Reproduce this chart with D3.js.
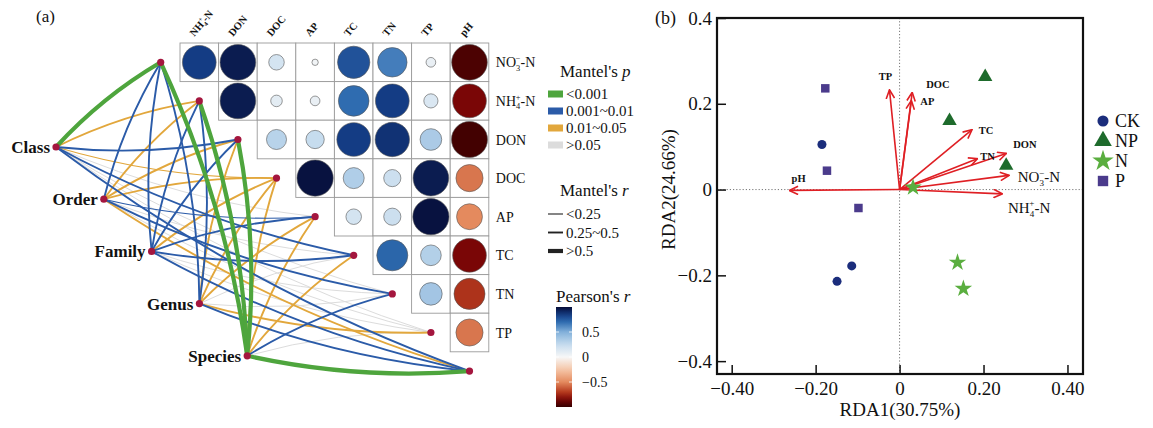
<!DOCTYPE html>
<html>
<head>
<meta charset="utf-8">
<script src="https://cdn.jsdelivr.net/npm/d3@7"></script>
<style>
  body { margin: 0; background: #fff; }
  svg { display: block; }
  text { font-family: "Liberation Serif", "Times New Roman", "DejaVu Serif", serif; fill: #111; }
</style>
</head>
<body>
<div id="chart"></div>
<script>
// ---------------- data ----------------
const envKeys = ["NO3", "NH4", "DON", "DOC", "AP", "TC", "TN", "TP", "pH"];
const rowKeys = envKeys.slice(0, 8);
const colKeys = envKeys.slice(1);

// Pearson r, upper triangle: row i starts at column i
const corrRows = [
  [0.85, 0.95, 0.18, 0.03, 0.78, 0.65, 0.07, -0.95],
  [0.95, 0.10, 0.07, 0.70, 0.85, 0.15, -0.85],
  [0.30, 0.25, 0.85, 0.88, 0.35, -0.97],
  [0.98, 0.33, 0.22, 0.95, -0.55],
  [0.18, 0.22, 0.98, -0.50],
  [0.72, 0.32, -0.85],
  [0.38, -0.72],
  [-0.55]
];

const taxa = ["Class", "Order", "Family", "Genus", "Species"];
const pLevels = ["<0.001", "0.001~0.01", "0.01~0.05", ">0.05"];
const rLevels = ["<0.25", "0.25~0.5", ">0.5"];
// mantel test classes per taxon, columns follow envKeys
const mantelP = [
  [0, 2, 1, 2, 3, 1, 3, 3, 1],
  [1, 2, 2, 2, 1, 3, 1, 3, 2],
  [1, 1, 1, 2, 1, 1, 3, 3, 1],
  [1, 1, 2, 2, 2, 3, 3, 2, 1],
  [0, 0, 0, 2, 2, 2, 1, 3, 0]
];
const mantelR = [
  [2, 1, 1, 0, 0, 1, 0, 0, 1],
  [1, 1, 1, 1, 0, 0, 1, 0, 1],
  [1, 1, 1, 1, 1, 1, 0, 0, 1],
  [1, 1, 1, 1, 1, 0, 0, 1, 1],
  [2, 2, 2, 1, 1, 1, 1, 0, 2]
];
const pearsonTicks = [0.5, 0, -0.5];

// RDA
const rdaXTicks = [-0.4, -0.2, 0, 0.2, 0.4];
const rdaXTickLabels = ["\u22120.40", "\u22120.20", "0", "0.20", "0.40"];
const rdaYTicks = [-0.4, -0.2, 0, 0.2, 0.4];
const rdaYTickLabels = ["\u22120.4", "\u22120.2", "0", "0.2", "0.4"];
const rdaVars = ["TP", "DOC", "AP", "TC", "TN", "DON", "NO3", "NH4", "pH"];
const rdaVarX = [-0.024, 0.030, 0.028, 0.172, 0.185, 0.254, 0.260, 0.244, -0.262];
const rdaVarY = [0.232, 0.226, 0.207, 0.139, 0.072, 0.084, 0.033, -0.010, -0.002];
const groups = ["CK", "NP", "N", "P"];
const sampleGroup = ["CK", "CK", "CK", "NP", "NP", "NP", "N", "N", "N", "P", "P", "P"];
const sampleX = [-0.185, -0.149, -0.114, 0.204, 0.119, 0.254, 0.138, 0.152, 0.032, -0.177, -0.173, -0.098];
const sampleY = [0.105, -0.214, -0.178, 0.263, 0.160, 0.056, -0.170, -0.231, 0.005, 0.236, 0.044, -0.043];

// ---------------- styles ----------------
const W = 1153, H = 428;
const pColors = ["#4ea53d", "#2b5ba8", "#e2a73c", "#dcdcdc"];
const rWidths = [1.1, 1.9, 4.2];
const corrColor = d3.scaleLinear()
  .domain([-1, -0.85, -0.7, -0.5, -0.25, 0, 0.25, 0.5, 0.7, 0.85, 1])
  .range(["#350000", "#7a0606", "#b53a1e", "#e48a5e", "#f5c6a8", "#f7f7f7",
          "#c6dcee", "#82b0da", "#2f6cb0", "#143c84", "#060c36"]);
const groupStyle = {
  CK: { type: d3.symbolCircle, size: 64, color: "#1b2d7c" },
  NP: { type: d3.symbolTriangle, size: 90, color: "#1e6b2c" },
  N:  { type: d3.symbolStar, size: 95, color: "#5aae3f" },
  P:  { type: d3.symbolSquare, size: 72, color: "#4b3b8c" }
};
const arrowColor = "#df1f24";

const richName = {
  NO3: [["NO"], ["3", "sub"], ["\u2212", "sup"], ["-N"]],
  NH4: [["NH"], ["4", "sub"], ["+", "sup"], ["-N"]]
};
function richText(sel, key, size) {
  const parts = richName[key] || [[key]];
  let shift = 0;
  parts.forEach(([t, kind]) => {
    const ts = sel.append("tspan").text(t);
    if (kind === "sub") {
      ts.attr("font-size", size * 0.6).attr("dy", size * 0.25 - shift);
      shift = size * 0.25;
    } else if (kind === "sup") {
      ts.attr("font-size", size * 0.6).attr("dx", -size * 0.32).attr("dy", -size * 0.45 - shift);
      shift = -size * 0.45;
    } else {
      if (shift) ts.attr("dy", -shift);
      shift = 0;
    }
  });
}

const svg = d3.select("#chart").append("svg")
  .attr("width", W).attr("height", H);
svg.append("rect").attr("width", W).attr("height", H).attr("fill", "#fff");

// ================= panel (a) =================
svg.append("text").attr("x", 36).attr("y", 22).attr("font-size", 17).text("(a)");

const x0 = 180, y0 = 43, cw = 38.6;
const xM = d3.scaleBand().domain(colKeys).range([x0, x0 + cw * colKeys.length]);
const yM = d3.scaleBand().domain(rowKeys).range([y0, y0 + cw * rowKeys.length]);
const bw = xM.bandwidth();
const rSize = d3.scaleSqrt().domain([0, 1]).range([0, bw / 2 - 1]);

const cells = [];
corrRows.forEach((row, i) => row.forEach((v, k) => {
  cells.push({ row: rowKeys[i], col: colKeys[i + k], v });
}));

// network edges (drawn first, under the matrix)
const envNode = j => [x0 + (j - 0.5) * bw, y0 + (j + 0.5) * bw];
const taxNode = i => [56 + i * 47.8, 147 + i * 52.2];

const edges = [];
taxa.forEach((t, i) => envKeys.forEach((e, j) => {
  edges.push({ i, j, p: mantelP[i][j], r: mantelR[i][j] });
}));
edges.sort((a, b) => b.p - a.p || a.r - b.r);

svg.append("g").selectAll("path").data(edges).enter().append("path")
  .attr("d", d => {
    const [tx, ty] = taxNode(d.i), [ex, ey] = envNode(d.j);
    const dx = ex - tx, dy = ey - ty, k = 0.075;
    // bend to the left when the env node sits clearly above-right, else to the right
    const left = (ey < ty - 20 && ex > tx);
    const px = left ? dy : -dy, py = left ? -dx : dx;
    const cx = (ex + tx) / 2 + k * px, cy = (ey + ty) / 2 + k * py;
    return `M${tx},${ty} Q${cx},${cy} ${ex},${ey}`;
  })
  .attr("fill", "none")
  .attr("stroke", d => pColors[d.p])
  .attr("stroke-width", d => d.p === 3 ? 1 : rWidths[d.r])
  .attr("stroke-linecap", "round");

// matrix cells
const cellG = svg.append("g");
cellG.selectAll("rect").data(cells).enter().append("rect")
  .attr("x", d => xM(d.col)).attr("y", d => yM(d.row))
  .attr("width", bw).attr("height", bw)
  .attr("fill", "#fff").attr("stroke", "#9a9a9a").attr("stroke-width", 0.9);
cellG.selectAll("circle").data(cells).enter().append("circle")
  .attr("cx", d => xM(d.col) + bw / 2).attr("cy", d => yM(d.row) + bw / 2)
  .attr("r", d => rSize(Math.abs(d.v)))
  .attr("fill", d => corrColor(d.v))
  .attr("stroke", "#555").attr("stroke-width", 0.6);

// nodes
svg.append("g").selectAll("circle").data(envKeys).enter().append("circle")
  .attr("cx", (d, j) => envNode(j)[0]).attr("cy", (d, j) => envNode(j)[1])
  .attr("r", 3.6).attr("fill", "#a4163e");
svg.append("g").selectAll("circle").data(taxa).enter().append("circle")
  .attr("cx", (d, i) => taxNode(i)[0]).attr("cy", (d, i) => taxNode(i)[1])
  .attr("r", 3.6).attr("fill", "#a4163e");
svg.append("g").selectAll("text").data(taxa).enter().append("text")
  .attr("x", (d, i) => taxNode(i)[0] - 6).attr("y", (d, i) => taxNode(i)[1] + 6)
  .attr("text-anchor", "end").attr("font-size", 17).attr("font-weight", "bold")
  .text(d => d);

// column headers
colKeys.forEach(k => {
  const t = svg.append("text")
    .attr("transform", `translate(${xM(k) + bw / 2 - 5},${y0 - 6}) rotate(-50)`)
    .attr("font-size", 10.5).attr("font-weight", "bold");
  richText(t, k, 10.5);
});
// row labels
rowKeys.forEach(k => {
  const t = svg.append("text")
    .attr("x", x0 + bw * colKeys.length + 7).attr("y", yM(k) + bw / 2 + 5)
    .attr("font-size", 14);
  richText(t, k, 14);
});

// legend: Mantel's p
const lx = 548;
const tP = svg.append("text").attr("x", lx + 12).attr("y", 77).attr("font-size", 17);
tP.append("tspan").text("Mantel's ");
tP.append("tspan").attr("font-style", "italic").text("p");
pLevels.forEach((lab, i) => {
  const cy = 94 + i * 17;
  svg.append("rect").attr("x", lx).attr("y", cy - 3.5).attr("width", 15).attr("height", 7)
    .attr("fill", pColors[i]);
  svg.append("text").attr("x", lx + 18).attr("y", cy + 5).attr("font-size", 15).text(lab);
});
// legend: Mantel's r
const tR = svg.append("text").attr("x", lx + 12).attr("y", 196).attr("font-size", 17);
tR.append("tspan").text("Mantel's ");
tR.append("tspan").attr("font-style", "italic").text("r");
rLevels.forEach((lab, i) => {
  const cy = 214 + i * 18.5;
  svg.append("line").attr("x1", lx).attr("x2", lx + 15).attr("y1", cy).attr("y2", cy)
    .attr("stroke", "#222").attr("stroke-width", rWidths[i]);
  svg.append("text").attr("x", lx + 18).attr("y", cy + 5).attr("font-size", 15).text(lab);
});
// legend: Pearson's r
const tPe = svg.append("text").attr("x", 556).attr("y", 302).attr("font-size", 17);
tPe.append("tspan").text("Pearson's ");
tPe.append("tspan").attr("font-style", "italic").text("r");
const grad = svg.append("defs").append("linearGradient").attr("id", "pgrad")
  .attr("x1", 0).attr("y1", 1).attr("x2", 0).attr("y2", 0);
d3.range(0, 1.0001, 0.05).forEach(t => {
  grad.append("stop").attr("offset", t).attr("stop-color", corrColor(-1 + 2 * t));
});
const cbY = d3.scaleLinear().domain([-1, 1]).range([407, 307]);
svg.append("rect").attr("x", 556).attr("y", cbY(1)).attr("width", 16)
  .attr("height", cbY(-1) - cbY(1)).attr("fill", "url(#pgrad)");
pearsonTicks.forEach(v => {
  svg.append("line").attr("x1", 556).attr("x2", 559).attr("y1", cbY(v)).attr("y2", cbY(v))
    .attr("stroke", "#fff").attr("stroke-width", 0.8);
  svg.append("line").attr("x1", 569).attr("x2", 572).attr("y1", cbY(v)).attr("y2", cbY(v))
    .attr("stroke", "#fff").attr("stroke-width", 0.8);
  svg.append("text").attr("x", 582).attr("y", cbY(v) + 5).attr("font-size", 14)
    .text(v === 0 ? "0" : (v < 0 ? "\u22120.5" : "0.5"));
});

// ================= panel (b) =================
svg.append("text").attr("x", 655).attr("y", 24).attr("font-size", 18).text("(b)");

const xR = d3.scaleLinear().domain([-0.435, 0.437]).range([717, 1083]);
const yR = d3.scaleLinear().domain([-0.43, 0.40]).range([374, 18]);

// zero lines
svg.append("line").attr("x1", xR(0)).attr("x2", xR(0)).attr("y1", yR.range()[1]).attr("y2", yR.range()[0])
  .attr("stroke", "#777").attr("stroke-width", 1).attr("stroke-dasharray", "1.2,2");
svg.append("line").attr("x1", xR.range()[0]).attr("x2", xR.range()[1]).attr("y1", yR(0)).attr("y2", yR(0))
  .attr("stroke", "#777").attr("stroke-width", 1).attr("stroke-dasharray", "1.2,2");

// axes
const xAxis = d3.axisBottom(xR).tickValues(rdaXTicks)
  .tickFormat((d, i) => rdaXTickLabels[i]).tickSizeInner(-9).tickSizeOuter(0).tickPadding(8);
const yAxis = d3.axisLeft(yR).tickValues(rdaYTicks)
  .tickFormat((d, i) => rdaYTickLabels[i]).tickSizeInner(-9).tickSizeOuter(0).tickPadding(5);
const gx = svg.append("g").attr("transform", `translate(0,${yR.range()[0]})`).call(xAxis);
const gy = svg.append("g").attr("transform", `translate(${xR.range()[0]},0)`).call(yAxis);
[gx, gy].forEach(g => {
  g.select(".domain").remove();
  g.selectAll(".tick line").attr("stroke", "#111").attr("stroke-width", 1.5);
  g.selectAll(".tick text").attr("font-size", 19).attr("fill", "#111")
    .attr("font-family", "'Liberation Serif','Times New Roman',serif");
});

// frame
svg.append("rect").attr("x", xR.range()[0]).attr("y", yR.range()[1])
  .attr("width", xR.range()[1] - xR.range()[0]).attr("height", yR.range()[0] - yR.range()[1])
  .attr("fill", "none").attr("stroke", "#111").attr("stroke-width", 2.2);

svg.append("text").attr("x", (xR.range()[0] + xR.range()[1]) / 2).attr("y", 416)
  .attr("text-anchor", "middle").attr("font-size", 19).text("RDA1(30.75%)");
svg.append("text")
  .attr("transform", `translate(675,${yR(0)}) rotate(-90)`)
  .attr("text-anchor", "middle").attr("font-size", 19).text("RDA2(24.66%)");

// arrows
const defs = svg.select("defs");
defs.append("marker").attr("id", "arr").attr("viewBox", "0 0 10 10")
  .attr("refX", 9).attr("refY", 5).attr("markerWidth", 10).attr("markerHeight", 10)
  .attr("markerUnits", "userSpaceOnUse").attr("orient", "auto")
  .append("path").attr("d", "M0.5,0.8 L9.3,5 L0.5,9.2")
  .attr("fill", "none").attr("stroke", arrowColor).attr("stroke-width", 1.6);

const arrows = rdaVars.map((k, i) => ({ k, x: rdaVarX[i], y: rdaVarY[i] }));
svg.append("g").selectAll("line").data(arrows).enter().append("line")
  .attr("x1", xR(0)).attr("y1", yR(0))
  .attr("x2", d => xR(d.x)).attr("y2", d => yR(d.y))
  .attr("stroke", arrowColor).attr("stroke-width", 1.6)
  .attr("marker-end", "url(#arr)");

// samples
svg.append("g").selectAll("path")
  .data(sampleGroup.map((g, i) => ({ g, x: sampleX[i], y: sampleY[i] })))
  .enter().append("path")
  .attr("transform", d => `translate(${xR(d.x)},${yR(d.y)})`)
  .attr("d", d => d3.symbol().type(groupStyle[d.g].type).size(groupStyle[d.g].size)())
  .attr("fill", d => groupStyle[d.g].color);

// arrow labels (nudge relative to arrow tip)
const labelNudge = {
  TP: [-4, -10, "middle"], DOC: [14, -5, "start"], AP: [9, 4, "start"],
  TC: [7, 4, "start"], TN: [3, 1, "start"], DON: [7, -6, "start"],
  NO3: [9, 7, "start"], NH4: [6, 19, "start"], pH: [9, -8, "middle"]
};
arrows.forEach(d => {
  const [dx, dy, anchor] = labelNudge[d.k];
  const rich = !!richName[d.k];
  const size = rich ? 15 : 10.5;
  const t = svg.append("text")
    .attr("x", xR(d.x) + dx).attr("y", yR(d.y) + dy)
    .attr("text-anchor", anchor).attr("font-size", size)
    .attr("font-weight", rich ? "normal" : "bold");
  richText(t, d.k, size);
});

// group legend
groups.forEach((g, i) => {
  const cy = 121 + i * 20;
  svg.append("path").attr("transform", `translate(1103,${cy})`)
    .attr("d", d3.symbol().type(groupStyle[g].type).size(groupStyle[g].size * 1.5)())
    .attr("fill", groupStyle[g].color);
  svg.append("text").attr("x", 1115).attr("y", cy + 6).attr("font-size", 18).text(g);
});
</script>
</body>
</html>
